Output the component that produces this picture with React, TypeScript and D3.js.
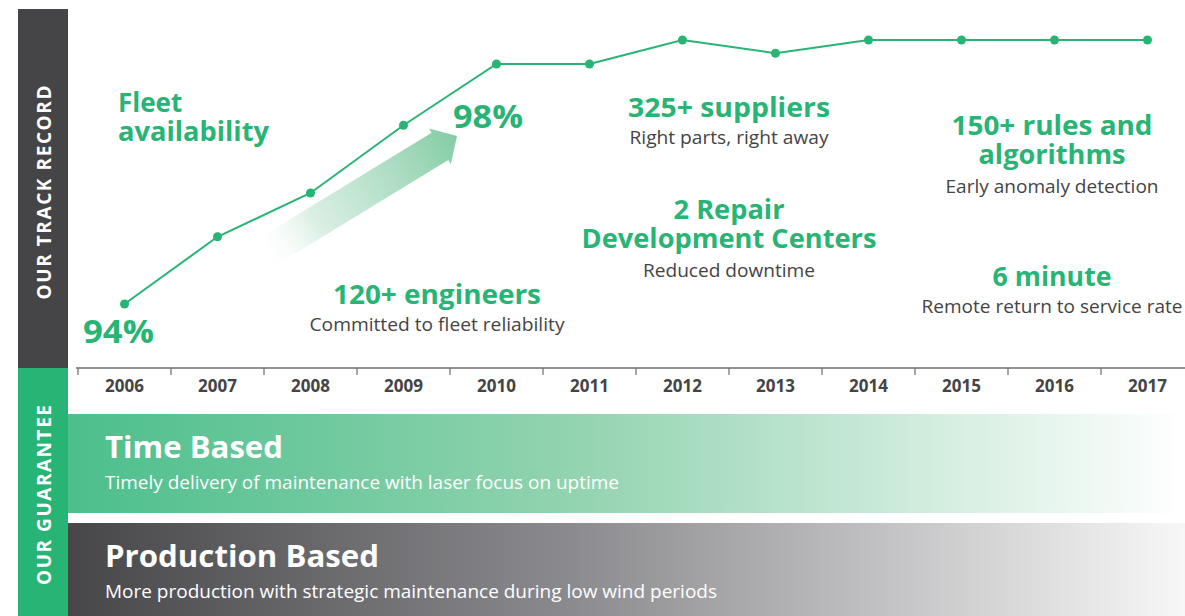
import React from "react";
import * as d3 from "d3";

const years = ["2006","2007","2008","2009","2010","2011","2012","2013","2014","2015","2016","2017"];
const availability = [94.0, 95.12, 95.85, 96.98, 98.0, 98.0, 98.4, 98.18, 98.4, 98.4, 98.4, 98.4];

const GREEN = "#27b474";
const DARK = "#454547";
const TEXT = "#444446";

const W = 1185, H = 616;

export default function App() {
  const x = d3.scaleBand<string>().domain(years).range([78, 1194]).paddingInner(0).paddingOuter(0);
  const y = d3.scaleLinear().domain([94, 98]).range([304, 64]);
  const cx = (d: string) => (x(d) as number) + x.bandwidth() / 2;
  const pts: [number, number][] = years.map((d, i) => [cx(d), y(availability[i])]);
  const line = d3.line()(pts) as string;

  // arrow geometry
  const tail: [number, number] = [258, 257.5];
  const tip: [number, number] = [457, 136];
  const ang = Math.atan2(tip[1] - tail[1], tip[0] - tail[0]);
  const L = Math.hypot(tip[0] - tail[0], tip[1] - tail[1]);
  const sw = 16, hw = 21, hl = 20;
  const arrowPts = [
    [0, -sw], [L - hl, -sw], [L - hl, -hw], [L, 0], [L - hl, hw], [L - hl, sw], [0, sw]
  ];
  const arrowPath = "M" + arrowPts.map(p => p.join(",")).join("L") + "Z";

  const font = "'Open Sans', 'Noto Sans', sans-serif";
  const head = (t: string, xx: number, yy: number, len?: number, size = 26, anchor = "middle") => (
    <text x={xx} y={yy} textAnchor={anchor} fill={GREEN} fontWeight={700} fontSize={size}
      fontFamily={font} textLength={len} lengthAdjust="spacingAndGlyphs">{t}</text>
  );
  const sub = (t: string, xx: number, yy: number, len?: number, size = 18) => (
    <text x={xx} y={yy} textAnchor="middle" fill={TEXT} fontWeight={400} fontSize={size}
      fontFamily={font} textLength={len} lengthAdjust="spacingAndGlyphs">{t}</text>
  );

  const ticks = [...years.map(d => x(d) as number), 1194];

  return (
    <svg width={W} height={H} style={{ position: "absolute", left: 0, top: 0, background: "#fff" }}>
      <defs>
        <linearGradient id="gTime" x1="0" x2="1" y1="0" y2="0">
          <stop offset="0" stopColor="#4cbf8c" />
          <stop offset="0.45" stopColor="#92d3b0" />
          <stop offset="1" stopColor="#ffffff" />
        </linearGradient>
        <linearGradient id="gProd" x1="0" x2="1" y1="0" y2="0">
          <stop offset="0" stopColor="#47474a" />
          <stop offset="0.45" stopColor="#8b8b8f" />
          <stop offset="1" stopColor="#f7f7f7" />
        </linearGradient>
        <linearGradient id="gArrow" x1="0" x2={L} y1="0" y2="0" gradientUnits="userSpaceOnUse">
          <stop offset="0" stopColor="#ffffff" stopOpacity={0} />
          <stop offset="0.3" stopColor="#cfeadb" stopOpacity={0.8} />
          <stop offset="1" stopColor="#84cca4" />
        </linearGradient>
      </defs>

      {/* sidebars */}
      <rect x={18} y={9} width={50} height={359} fill={DARK} />
      <rect x={18} y={368} width={50} height={248} fill={GREEN} />
      <text transform={`translate(51,192.5) rotate(-90)`} textAnchor="middle" fill="#fff" fontWeight={700}
        fontSize={19} fontFamily={font} textLength={214} lengthAdjust="spacing">OUR TRACK RECORD</text>
      <text transform={`translate(51,495) rotate(-90)`} textAnchor="middle" fill="#fff" fontWeight={700}
        fontSize={19} fontFamily={font} textLength={180} lengthAdjust="spacing">OUR GUARANTEE</text>

      {/* arrow */}
      <path d={arrowPath} fill="url(#gArrow)" transform={`translate(${tail[0]},${tail[1]}) rotate(${ang * 180 / Math.PI})`} />

      {/* line */}
      <path d={line} fill="none" stroke={GREEN} strokeWidth={2} />
      {pts.map((p, i) => <circle key={i} cx={p[0]} cy={p[1]} r={4.5} fill={GREEN} />)}

      {/* axis */}
      <line x1={76} x2={1185} y1={368} y2={368} stroke="#6d6d70" strokeWidth={1.5} />
      {ticks.map((t, i) => <line key={i} x1={t} x2={t} y1={368} y2={375} stroke="#6d6d70" strokeWidth={1.2} />)}
      {years.map(d => (
        <text key={d} x={cx(d)} y={392} textAnchor="middle" fill={TEXT} fontWeight={700} fontSize={17}
          fontFamily={font}>{d}</text>
      ))}

      {/* annotations */}
      {head("Fleet", 118, 112, undefined, 26, "start")}
      {head("availability", 118, 141, 151, 26, "start")}
      {head("94%", 83, 343, 71, 32, "start")}
      {head("98%", 453, 128, 70, 32, "start")}
      {head("120+ engineers", 437, 304, 208)}
      {sub("Committed to fleet reliability", 437, 331, 255)}
      {head("325+ suppliers", 729, 117, 202)}
      {sub("Right parts, right away", 729, 144, 199)}
      {head("2 Repair", 729, 219, 111)}
      {head("Development Centers", 729, 248, 295)}
      {sub("Reduced downtime", 729, 277, 172)}
      {head("150+ rules and", 1052, 135, 201)}
      {head("algorithms", 1052, 164, 147)}
      {sub("Early anomaly detection", 1052, 193, 213)}
      {head("6 minute", 1052, 286, 119)}
      {sub("Remote return to service rate", 1052, 313, 261)}

      {/* bands */}
      <rect x={68} y={414} width={W - 68} height={99} fill="url(#gTime)" />
      <rect x={68} y={523} width={W - 68} height={93} fill="url(#gProd)" />
      <text x={105} y={458} fill="#fff" fontWeight={700} fontSize={30} fontFamily={font} textLength={178} lengthAdjust="spacingAndGlyphs">Time Based</text>
      <text x={105} y={489} fill="#fff" fontWeight={400} fontSize={18.5} fontFamily={font} textLength={514} lengthAdjust="spacingAndGlyphs">Timely delivery of maintenance with laser focus on uptime</text>
      <text x={105} y={567} fill="#fff" fontWeight={700} fontSize={30} fontFamily={font} textLength={274} lengthAdjust="spacingAndGlyphs">Production Based</text>
      <text x={105} y={598} fill="#fff" fontWeight={400} fontSize={18.5} fontFamily={font} textLength={612} lengthAdjust="spacingAndGlyphs">More production with strategic maintenance during low wind periods</text>
    </svg>
  );
}
